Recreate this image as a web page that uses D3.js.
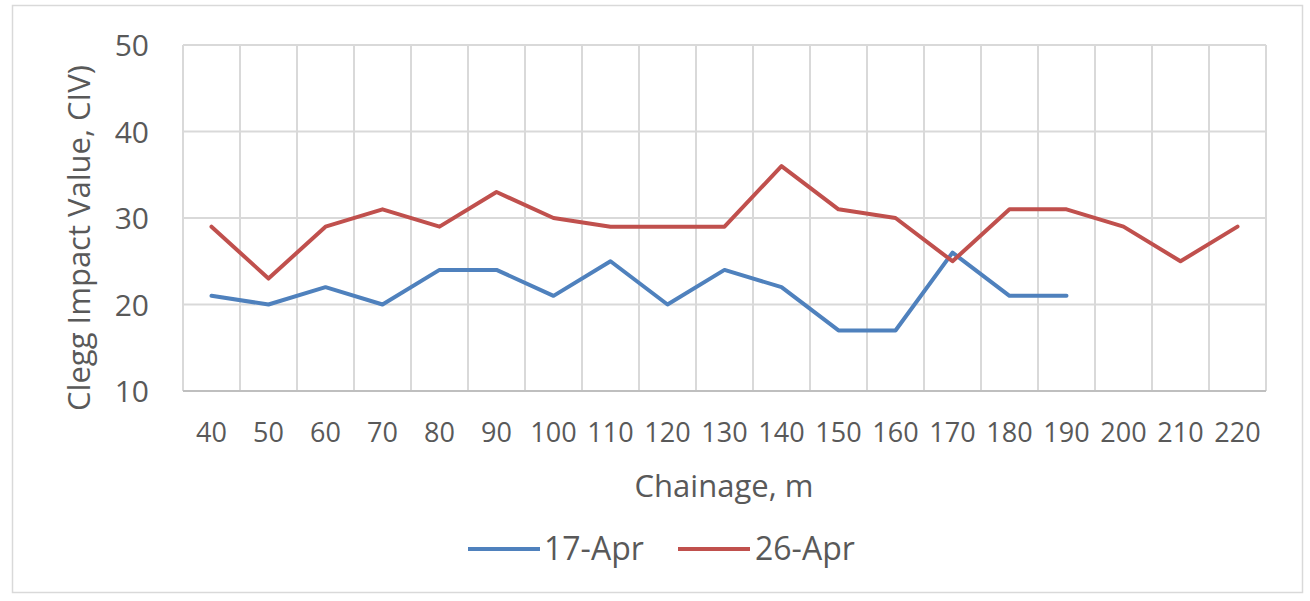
<!DOCTYPE html>
<html><head><meta charset="utf-8">
<script src="https://cdn.jsdelivr.net/npm/d3@7"></script>
<style>body{margin:0;background:#fff}svg{display:block}text{font-family:"Open Sans",sans-serif;fill:#595959}</style>
</head><body>
<svg id="c" width="1310" height="601"></svg>
<script>
const categories = [40,50,60,70,80,90,100,110,120,130,140,150,160,170,180,190,200,210,220];
const seriesNames = ["17-Apr","26-Apr"];
const apr17 = [21,20,22,20,24,24,21,25,20,24,22,17,17,26,21,21,null,null,null];
const apr26 = [29,23,29,31,29,33,30,29,29,29,36,31,30,25,31,31,29,25,29];
const yTicks = [10,20,30,40,50];
const colors = ["#4F81BD","#C0504D"];

const svg = d3.select("#c");
svg.append("rect").attr("x",12.5).attr("y",5.5).attr("width",1290).attr("height",587)
  .attr("fill","#fff").attr("stroke","#D9D9D9").attr("stroke-width",1.5);

const L=183,R=1266,T=45,B=391;
const x = d3.scaleBand().domain(categories).range([L,R]);
const y = d3.scaleLinear().domain([10,50]).range([B,T]);

const g = svg.append("g");
g.selectAll(".hg").data(yTicks).join("line")
  .attr("x1",L).attr("x2",R).attr("y1",d=>y(d)).attr("y2",d=>y(d))
  .attr("stroke","#D9D9D9").attr("stroke-width",2);
const edges = categories.map(c=>x(c)).concat([R]);
g.selectAll(".vg").data(edges).join("line")
  .attr("x1",d=>d).attr("x2",d=>d).attr("y1",T).attr("y2",B)
  .attr("stroke","#D9D9D9").attr("stroke-width",2);
g.append("line").attr("x1",L).attr("x2",R).attr("y1",B).attr("y2",B)
  .attr("stroke","#BFBFBF").attr("stroke-width",2);

const yAxis = d3.axisLeft(y).tickValues(yTicks).tickSize(0).tickPadding(0);
const ya = svg.append("g").attr("transform",`translate(${149},0)`).call(yAxis);
ya.select(".domain").remove();
ya.selectAll("text").style("font-size","30px").style("fill","#595959")
  .style("font-family","'Open Sans',sans-serif").attr("dy","0.35em");

const xAxis = d3.axisBottom(x).tickSize(0).tickPadding(0);
const xa = svg.append("g").attr("transform",`translate(0,${B})`).call(xAxis);
xa.select(".domain").remove();
xa.selectAll("text").style("font-size","27px").style("fill","#595959")
  .style("font-family","'Open Sans',sans-serif").attr("y",51).attr("dy",0);

const line = d3.line().defined(d=>d.v!=null).x(d=>x(d.c)+x.bandwidth()/2).y(d=>y(d.v));
[apr17,apr26].forEach((s,i)=>{
  svg.append("path").datum(categories.map((c,j)=>({c,v:s[j]})))
    .attr("d",line).attr("fill","none").attr("stroke",colors[i])
    .attr("stroke-width",4).attr("stroke-linejoin","round").attr("stroke-linecap","round");
});

svg.append("text").attr("x",724).attr("y",497).attr("text-anchor","middle")
  .style("font-size","31px").text("Chainage, m");
svg.append("text").attr("transform","translate(90,238) rotate(-90)").attr("text-anchor","middle")
  .style("font-size","31px").text("Clegg Impact Value, CIV)");

const leg = [{x1:468,x2:540,tx:544},{x1:678,x2:750,tx:755}];
leg.forEach((l,i)=>{
  svg.append("line").attr("x1",l.x1).attr("x2",l.x2).attr("y1",549).attr("y2",549)
    .attr("stroke",colors[i]).attr("stroke-width",4);
  svg.append("text").attr("x",l.tx).attr("y",560).style("font-size","32px").text(seriesNames[i]);
});
</script>
</body></html>
